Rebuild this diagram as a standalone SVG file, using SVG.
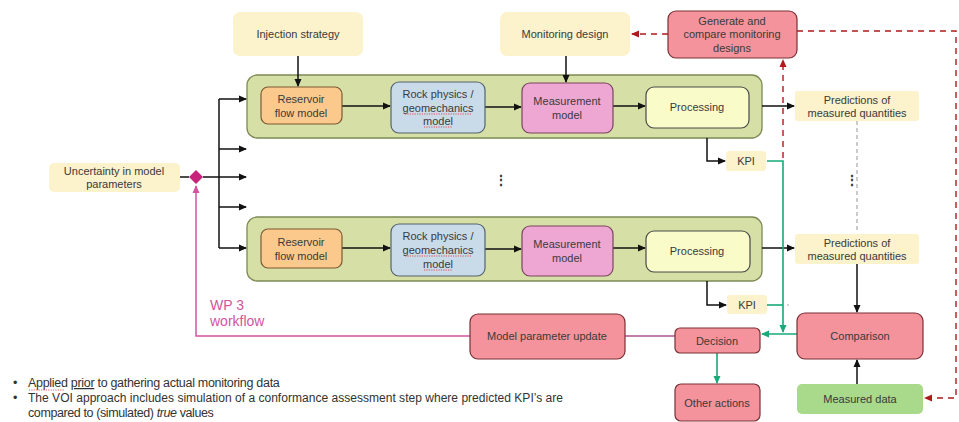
<svg xmlns="http://www.w3.org/2000/svg" width="959" height="422" viewBox="0 0 959 422">
<defs>
<style>
text{font-family:"Liberation Sans",Arial,sans-serif;font-size:11px;fill:#3a3a3a;text-anchor:middle}
.lbl{fill:#fcf2cb;stroke:none}
.cont{fill:#d6dfa5;stroke:#7d8a55;stroke-width:1.3}
.res{fill:#fcc98c;stroke:#7a5a35;stroke-width:1.2}
.rock{fill:#c9dbe9;stroke:#56636f;stroke-width:1.2}
.meas{fill:#eea7d3;stroke:#7a4560;stroke-width:1.2}
.proc{fill:#f9fcc9;stroke:#4a4a4a;stroke-width:1.2}
.red{fill:#f4939b;stroke:#7a3036;stroke-width:1.2}
.mdata{fill:#a9d98b;stroke:none}
.k{stroke:#111;stroke-width:1.5;fill:none}
.g{stroke:#1aa978;stroke-width:1.6;fill:none}
.rd{stroke:#b01a1a;stroke-width:1.4;fill:none;stroke-dasharray:6,5}
.pk{stroke:#d2559e;stroke-width:1.5;fill:none}
.sq{stroke:#e03030;stroke-width:0.8;fill:none;stroke-dasharray:1.2,1.2}
.bul{text-anchor:start;font-size:12.5px;fill:#333}
</style>
<marker id="ak" markerWidth="8" markerHeight="8" refX="7" refY="4" orient="auto" markerUnits="userSpaceOnUse"><path d="M0,0.5 L8,4 L0,7.5 Z" fill="#111"/></marker>
<marker id="ag" markerWidth="8" markerHeight="8" refX="7" refY="4" orient="auto" markerUnits="userSpaceOnUse"><path d="M0,0.5 L8,4 L0,7.5 Z" fill="#1aa978"/></marker>
<marker id="ar" markerWidth="8" markerHeight="8" refX="7" refY="4" orient="auto" markerUnits="userSpaceOnUse"><path d="M0,0.5 L8,4 L0,7.5 Z" fill="#b01a1a"/></marker>
<marker id="ap" markerWidth="8" markerHeight="8" refX="7" refY="4" orient="auto" markerUnits="userSpaceOnUse"><path d="M0,0.5 L8,4 L0,7.5 Z" fill="#d2559e"/></marker>
</defs>
<rect width="959" height="422" fill="#ffffff"/>

<g id="containers">
<rect id="container1" class="cont" x="247" y="75" width="515" height="63" rx="10"/>
<rect id="container2" class="cont" x="247" y="217" width="515" height="64" rx="10"/>
</g>

<g id="connectors">
<line class="k" x1="298" y1="56" x2="298" y2="86" marker-end="url(#ak)"/>
<line class="k" x1="566" y1="56" x2="566" y2="82" marker-end="url(#ak)"/>
<line class="k" x1="342" y1="106" x2="390" y2="106" marker-end="url(#ak)"/>
<line class="k" x1="485" y1="107" x2="521" y2="107" marker-end="url(#ak)"/>
<line class="k" x1="613" y1="106" x2="645" y2="106" marker-end="url(#ak)"/>
<line class="k" x1="762" y1="106" x2="794" y2="106" marker-end="url(#ak)"/>
<line class="k" x1="342" y1="248" x2="390" y2="248" marker-end="url(#ak)"/>
<line class="k" x1="485" y1="249" x2="521" y2="249" marker-end="url(#ak)"/>
<line class="k" x1="613" y1="248" x2="645" y2="248" marker-end="url(#ak)"/>
<line class="k" x1="762" y1="248" x2="794" y2="248" marker-end="url(#ak)"/>
<polyline class="k" points="707,138 707,161 725,161" marker-end="url(#ak)"/>
<polyline class="k" points="707,281 707,305 726,305" marker-end="url(#ak)"/>
<line class="k" x1="180" y1="177" x2="189" y2="177"/>
<line class="k" x1="203" y1="177" x2="246" y2="177" marker-end="url(#ak)"/>
<line class="k" x1="219" y1="99" x2="219" y2="248"/>
<line class="k" x1="219" y1="99" x2="246" y2="99" marker-end="url(#ak)"/>
<line class="k" x1="219" y1="149" x2="246" y2="149" marker-end="url(#ak)"/>
<line class="k" x1="219" y1="207" x2="246" y2="207" marker-end="url(#ak)"/>
<line class="k" x1="219" y1="248" x2="246" y2="248" marker-end="url(#ak)"/>
<line class="k" x1="857" y1="264" x2="857" y2="312" marker-end="url(#ak)"/>
<line class="k" x1="857" y1="384" x2="857" y2="360" marker-end="url(#ak)"/>
<line x1="857" y1="121" x2="857" y2="233" stroke="#aaaaaa" stroke-width="1.2" stroke-dasharray="4,3"/>
<polyline class="g" points="767,161 783,161 783,332" marker-end="url(#ag)"/>
<line class="g" x1="767" y1="305" x2="783" y2="305"/>
<circle cx="788" cy="305" r="0.8" fill="#999"/>
<line class="g" x1="797" y1="334" x2="762" y2="334" marker-end="url(#ag)"/>
<line class="g" x1="717" y1="353" x2="717" y2="383" marker-end="url(#ag)"/>
<line class="rd" x1="668" y1="34" x2="632" y2="34" marker-end="url(#ar)"/>
<line class="rd" x1="783" y1="158" x2="783" y2="60" marker-end="url(#ar)"/>
<polyline class="rd" points="797,31 956,31 956,398 925,398" marker-end="url(#ar)"/>
<polyline class="pk" points="470,336 196,336 196,186" marker-end="url(#ap)"/>
<line x1="625" y1="336" x2="675" y2="336" stroke="#b0508c" stroke-width="1.4"/>
</g>

<g id="n-injection"><rect class="lbl" x="233" y="12" width="130" height="44" rx="7"/><text x="298" y="38">Injection strategy</text></g>
<g id="n-monitoring"><rect class="lbl" x="500" y="12" width="130" height="44" rx="7"/><text x="565" y="38">Monitoring design</text></g>
<g id="n-generate"><rect class="red" x="668" y="11" width="129" height="47" rx="8"/><text x="732" y="25">Generate and</text><text x="732" y="38">compare monitoring</text><text x="732" y="52">designs</text></g>
<g id="n-uncertainty"><rect class="lbl" x="49" y="163" width="131" height="29" rx="5"/><text x="114" y="175">Uncertainty in model</text><text x="114" y="188">parameters</text></g>
<g id="n-diamond"><path d="M196,170 L203,177 L196,184 L189,177 Z" fill="#c8237a"/></g>

<g id="n-res1"><rect class="res" x="261" y="87" width="81" height="37" rx="7"/><text x="301" y="103">Reservoir</text><text x="301" y="117">flow model</text></g>
<g id="n-rock1"><rect class="rock" x="391" y="82" width="94" height="51" rx="8"/><text x="438" y="98">Rock physics /</text><text x="438" y="112">geomechanics</text><text x="438" y="125">model</text><line class="sq" x1="405" y1="114" x2="471" y2="114"/><line class="sq" x1="424" y1="127" x2="452" y2="127"/></g>
<g id="n-meas1"><rect class="meas" x="522" y="83" width="91" height="50" rx="8"/><text x="567" y="105">Measurement</text><text x="567" y="119">model</text></g>
<g id="n-proc1"><rect class="proc" x="646" y="87" width="103" height="41" rx="8"/><text x="697" y="111">Processing</text></g>
<g id="n-pred1"><rect class="lbl" x="795" y="91" width="124" height="30" rx="3"/><text x="857" y="104">Predictions of</text><text x="857" y="117">measured quantities</text></g>
<g id="n-kpi1"><rect class="lbl" x="726" y="151" width="40" height="20" rx="3"/><text x="746" y="165">KPI</text></g>

<g id="n-res2"><rect class="res" x="261" y="229" width="81" height="39" rx="7"/><text x="301" y="246">Reservoir</text><text x="301" y="260">flow model</text></g>
<g id="n-rock2"><rect class="rock" x="391" y="224" width="94" height="52" rx="8"/><text x="438" y="240">Rock physics /</text><text x="438" y="254">geomechanics</text><text x="438" y="268">model</text><line class="sq" x1="405" y1="256" x2="471" y2="256"/><line class="sq" x1="424" y1="270" x2="452" y2="270"/></g>
<g id="n-meas2"><rect class="meas" x="522" y="226" width="91" height="50" rx="8"/><text x="567" y="248">Measurement</text><text x="567" y="262">model</text></g>
<g id="n-proc2"><rect class="proc" x="646" y="231" width="104" height="41" rx="8"/><text x="697" y="255">Processing</text></g>
<g id="n-pred2"><rect class="lbl" x="795" y="234" width="124" height="30" rx="3"/><text x="857" y="247">Predictions of</text><text x="857" y="260">measured quantities</text></g>
<g id="n-kpi2"><rect class="lbl" x="727" y="295" width="40" height="19" rx="3"/><text x="747" y="309">KPI</text></g>

<g id="n-dots">
<text x="501" y="185" style="font-size:14px;font-weight:bold">⋮</text>
<text x="852" y="185" style="font-size:14px;font-weight:bold">⋮</text>
</g>

<g id="n-comparison"><rect class="red" x="797" y="313" width="126" height="46" rx="8"/><text x="860" y="340">Comparison</text></g>
<g id="n-measured"><rect class="mdata" x="797" y="384" width="126" height="30" rx="5"/><text x="860" y="403">Measured data</text></g>
<g id="n-decision"><rect class="red" x="675" y="328" width="85" height="25" rx="5"/><text x="717" y="345">Decision</text></g>
<g id="n-other"><rect class="red" x="675" y="384" width="85" height="37" rx="6"/><text x="717" y="407">Other actions</text></g>
<g id="n-update"><rect class="red" x="470" y="314" width="155" height="45" rx="8"/><text x="547" y="340">Model parameter update</text></g>

<g id="wp3">
<text x="210" y="310" style="text-anchor:start;font-size:14px;fill:#d2559e">WP 3</text>
<text x="210" y="326" style="text-anchor:start;font-size:14px;fill:#d2559e">workflow</text>
</g>

<g id="notes">
<text x="13" y="387" class="bul">•</text>
<text x="13" y="402" class="bul">•</text>
<text x="28" y="387" class="bul" style="letter-spacing:-0.3px">Applied <tspan text-decoration="underline">prior</tspan> to gathering actual monitoring data</text>
<text x="28" y="402" class="bul" textLength="535" lengthAdjust="spacingAndGlyphs">The VOI approach includes simulation of a conformance assessment step where predicted KPI’s are</text>
<text x="28" y="417" class="bul" style="letter-spacing:-0.4px">compared to (simulated) <tspan font-style="italic">true</tspan> values</text>
<line class="sq" x1="29" y1="390" x2="65" y2="390"/>
</g>
</svg>
